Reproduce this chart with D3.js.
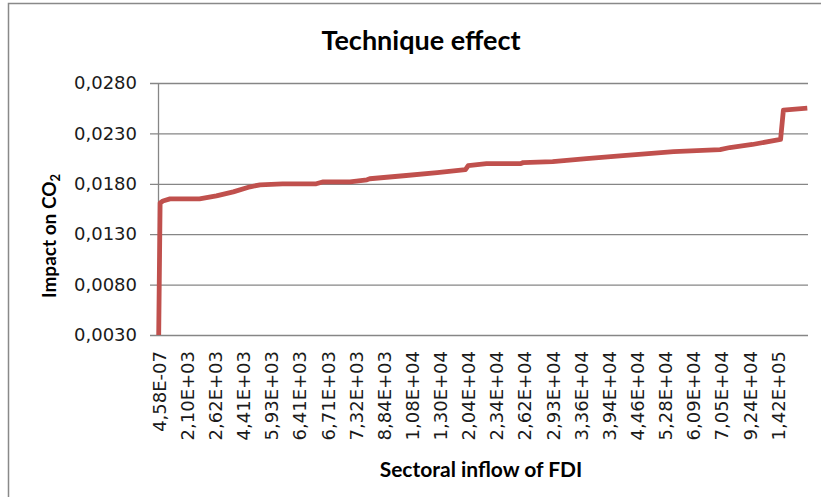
<!DOCTYPE html>
<html>
<head>
<meta charset="utf-8">
<script src="https://cdn.jsdelivr.net/npm/d3@7"></script>
<style>
  html, body { margin: 0; padding: 0; background: #fff; }
  svg { display: block; }
</style>
</head>
<body>
<div id="chart"></div>
<script>
// x axis category labels, one label every 20 observations
const xLabels = [
  "4,58E-07", "2,10E+03", "2,62E+03", "4,41E+03", "5,93E+03", "6,41E+03",
  "6,71E+03", "7,32E+03", "8,84E+03", "1,08E+04", "1,30E+04", "2,04E+04",
  "2,34E+04", "2,62E+04", "2,93E+04", "3,36E+04", "3,94E+04", "4,46E+04",
  "5,28E+04", "6,09E+04", "7,05E+04", "9,24E+04", "1,42E+05"
];
const labelStep = 20;
const obsCount = 462;

const obsRank = [0, 1, 3, 8, 29, 41, 53, 65, 72, 88, 112, 117, 136, 148, 150,
  174, 198, 218, 220, 233, 257, 259, 280, 304, 330, 366, 399, 406, 422, 442,
  444, 461];
const impact = [0.0030, 0.0161, 0.0163, 0.0165, 0.0165, 0.0168, 0.0172, 0.0177,
  0.0179, 0.0180, 0.0180, 0.0182, 0.0182, 0.0184, 0.0185, 0.0188, 0.0191,
  0.0194, 0.0198, 0.0200, 0.0200, 0.0201, 0.0202, 0.0205, 0.0208, 0.0212,
  0.0214, 0.0216, 0.0219, 0.0224, 0.0253, 0.0255];

const yTicks = [0.003, 0.008, 0.013, 0.018, 0.023, 0.028];

const colors = {
  line: "#C0504D",
  grid: "#868686",
  border: "#898989",
  text: "#1a1a1a"
};

const width = 821, height = 497;
const margin = { top: 83, left: 158, right: 13, bottom: 162 };
const plotW = width - margin.left - margin.right;
const plotH = height - margin.top - margin.bottom;

const locale = d3.formatLocale({ decimal: ",", thousands: ".", grouping: [3], currency: ["", ""] });
const fmt = locale.format(".4f");

const svg = d3.select("#chart").append("svg")
  .attr("width", width)
  .attr("height", height);

// chart frame
svg.append("rect")
  .attr("x", 8.5).attr("y", 3.5)
  .attr("width", width + 20).attr("height", height + 20)
  .attr("fill", "#fff")
  .attr("stroke", colors.border)
  .attr("stroke-width", 1.5);

const x = d3.scaleLinear().domain([-0.5, obsCount - 0.5]).range([0, plotW]);
const y = d3.scaleLinear().domain([yTicks[0], yTicks[yTicks.length - 1]]).range([plotH, 0]);

const g = svg.append("g").attr("transform", `translate(${margin.left},${margin.top})`);

// y axis + gridlines
const yAxis = d3.axisLeft(y)
  .tickValues(yTicks)
  .tickFormat(fmt)
  .tickSizeInner(-plotW)
  .tickSizeOuter(0)
  .tickPadding(21);

const yg = g.append("g").attr("class", "yAxis").call(yAxis);
yg.select(".domain").attr("stroke", colors.grid).attr("stroke-width", 1.3);
yg.selectAll(".tick line")
  .attr("x1", -8)
  .attr("stroke", colors.grid)
  .attr("stroke-width", 1.3);
yg.selectAll(".tick text")
  .attr("fill", colors.text)
  .style("font-family", "DejaVu Sans")
  .style("font-size", "18px")
  .style("font-weight", "normal");

// x axis labels (category axis, no tick marks)
const xAxis = d3.axisBottom(x)
  .tickValues(xLabels.map((d, i) => i * labelStep))
  .tickFormat((d, i) => xLabels[i])
  .tickSize(0);

const xg = g.append("g").attr("class", "xAxis")
  .attr("transform", `translate(0,${plotH})`)
  .call(xAxis);
xg.select(".domain").remove();
xg.selectAll(".tick text")
  .attr("fill", colors.text)
  .style("font-family", "DejaVu Sans")
  .style("font-size", "18px")
  .attr("transform", "rotate(-90)")
  .attr("text-anchor", "end")
  .attr("x", -16)
  .attr("y", 0)
  .attr("dy", "0.36em");

// the curve
const line = d3.line()
  .x((d, i) => x(obsRank[i]))
  .y(d => y(d));

g.append("path")
  .datum(impact)
  .attr("fill", "none")
  .attr("stroke", colors.line)
  .attr("stroke-width", 4.8)
  .attr("stroke-linejoin", "round")
  .attr("d", line);

// titles
svg.append("text")
  .text("Technique effect")
  .attr("x", 421)
  .attr("y", 50)
  .attr("text-anchor", "middle")
  .style("font-family", "Lato")
  .style("font-weight", "bold")
  .style("font-size", "27px");

const yTitle = svg.append("text")
  .attr("transform", "translate(56,236) rotate(-90)")
  .attr("text-anchor", "middle")
  .style("font-family", "Lato")
  .style("font-weight", "bold")
  .style("font-size", "19px");
yTitle.append("tspan").text("Impact on CO");
yTitle.append("tspan").text("2").attr("dy", 4).style("font-size", "13px");

svg.append("text")
  .text("Sectoral inflow of FDI")
  .attr("x", 481)
  .attr("y", 477)
  .attr("text-anchor", "middle")
  .style("font-family", "Lato")
  .style("font-weight", "bold")
  .style("font-size", "21px");
</script>
</body>
</html>
